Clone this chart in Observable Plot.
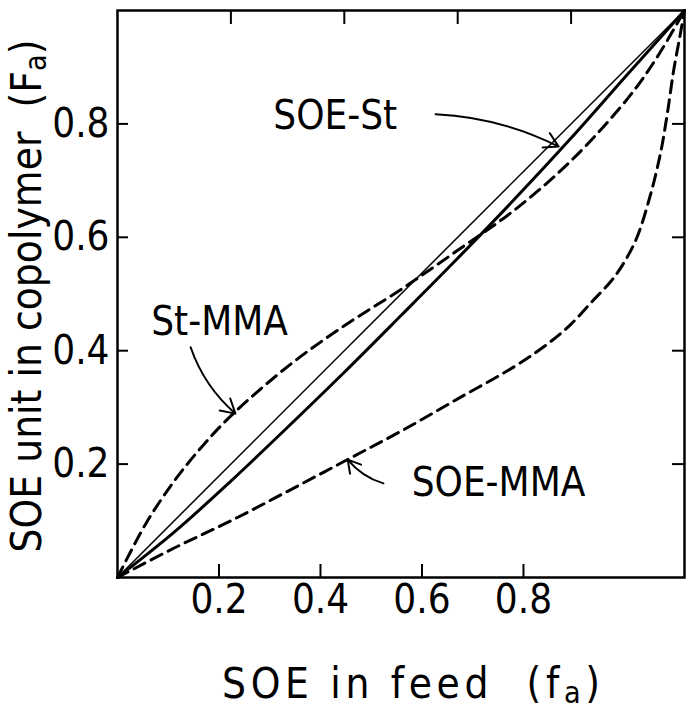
<!DOCTYPE html>
<html><head><meta charset="utf-8">
<script src="https://cdn.jsdelivr.net/npm/d3@7"></script>
<script src="https://cdn.jsdelivr.net/npm/@observablehq/plot@0.6"></script>
<style>
html,body{margin:0;padding:0;background:#fff;}
svg text{white-space:pre;}
</style>
</head><body><div id="chart"></div>
<script>
const FONT = '"Liberation Sans Narrow", "DejaVu Sans Condensed", "Liberation Sans", sans-serif';

// Thin reference diagonal (F = f)
const diagFeed = [0, 1];
const diagCopolymer = [0, 1];

// SOE-St (thick solid)
const soeStFeed = [0, 0.1, 0.2, 0.3, 0.4, 0.5, 0.6, 0.7, 0.8, 0.9, 1];
const soeStCopolymer = [0, 0.08, 0.17, 0.265, 0.362, 0.462, 0.563, 0.667, 0.775, 0.888, 1];

// St-MMA (dashed)
const stMmaFeed = [0, 0.05, 0.1, 0.15, 0.2, 0.3, 0.4, 0.5, 0.6, 0.7, 0.8, 0.9, 0.95, 1];
const stMmaCopolymer = [0, 0.095, 0.17, 0.232, 0.285, 0.372, 0.444, 0.508, 0.577, 0.648, 0.735, 0.845, 0.915, 1];

// SOE-MMA (dashed)
const soeMmaFeed = [0, 0.1, 0.2, 0.3, 0.4, 0.5, 0.6, 0.7, 0.76, 0.8, 0.84, 0.87, 0.89, 0.915, 0.94, 0.958, 0.97, 0.981, 0.992, 1];
const soeMmaCopolymer = [0, 0.052, 0.1, 0.152, 0.205, 0.258, 0.315, 0.372, 0.413, 0.447, 0.49, 0.522, 0.55, 0.597, 0.675, 0.75, 0.82, 0.895, 0.955, 1];

// Axis ticks
const tickValues = [0.2, 0.4, 0.6, 0.8];
const tickLabels = ["0.2", "0.4", "0.6", "0.8"];
// In the printed figure the labelled bottom axis is drawn ~10% compressed relative to the frame
const bottomAxisCompression = 0.895;

// Titles (text, subscript, closing)
const xTitle = ["SOE in feed  (f", "a", ")"];
const yTitle = ["SOE unit in copolymer  (F", "a", ")"];

// Annotations
const labelText = ["SOE-St", "St-MMA", "SOE-MMA"];
const labelFeed = [0.384, 0.180, 0.672];
const labelCopolymer = [0.813, 0.451, 0.166];
const arrowFeedFrom = [0.561, 0.129, 0.469];
const arrowCopFrom = [0.817, 0.406, 0.166];
const arrowFeedTo = [0.778, 0.208, 0.406];
const arrowCopTo = [0.760, 0.289, 0.208];
const arrowBend = [12, -15, 17];

const toRows = (xs, ys) => xs.map((x, i) => ({x, y: ys[i]}));
const labels = labelText.map((t, i) => ({t, x: labelFeed[i], y: labelCopolymer[i]}));
const arrows = labelText.map((t, i) => ({x1: arrowFeedFrom[i], y1: arrowCopFrom[i], x2: arrowFeedTo[i], y2: arrowCopTo[i], bend: arrowBend[i]}));

const dash = "12,7";
const plot = Plot.plot({
  width: 686,
  height: 708,
  marginLeft: 117,
  marginRight: 2,
  marginTop: 10,
  marginBottom: 131,
  style: {fontFamily: FONT, background: "#fff", color: "#000"},
  x: {domain: [0, 1]},
  y: {domain: [0, 1]},
  marks: [
    Plot.frame({stroke: "#000", strokeWidth: 2.5}),
    Plot.axisY({anchor: "left", ticks: tickValues, tickFormat: (d, i) => tickLabels[i], tickSize: -11, tickPadding: 19, fontSize: 40, strokeWidth: 2, label: null}),
    Plot.axisY({anchor: "right", ticks: tickValues, tickFormat: () => "", tickSize: -13, strokeWidth: 2, label: null}),
    Plot.axisX({anchor: "top", ticks: tickValues, tickFormat: () => "", tickSize: -13, strokeWidth: 2, label: null}),
    Plot.axisX({anchor: "bottom", ticks: tickValues.map(v => v * bottomAxisCompression), tickFormat: (d, i) => tickLabels[i], tickSize: -13, tickPadding: 20, fontSize: 40, strokeWidth: 2, label: null}),
    Plot.line(toRows(diagFeed, diagCopolymer), {x: "x", y: "y", stroke: "#000", strokeWidth: 1.5}),
    Plot.line(toRows(soeStFeed, soeStCopolymer), {x: "x", y: "y", stroke: "#000", strokeWidth: 3, curve: "catmull-rom"}),
    Plot.line(toRows(stMmaFeed, stMmaCopolymer), {x: "x", y: "y", stroke: "#000", strokeWidth: 3, strokeDasharray: dash, curve: "catmull-rom"}),
    Plot.line(toRows(soeMmaFeed, soeMmaCopolymer), {x: "x", y: "y", stroke: "#000", strokeWidth: 3, strokeDasharray: dash, curve: "catmull-rom"}),
    ...arrows.map(a => Plot.arrow([a], {x1: "x1", y1: "y1", x2: "x2", y2: "y2", bend: a.bend, stroke: "#000", strokeWidth: 2, headLength: 12})),
    Plot.text(labels, {x: "x", y: "y", text: "t", fontSize: 40, fill: "#000", style: "letter-spacing:1.5px"}),
    Plot.text([xTitle.join("")], {frameAnchor: "bottom", textAnchor: "middle", lineAnchor: "middle", dy: 107, dx: 10, fontSize: 42, fill: "#000"}),
    Plot.text([yTitle.join("")], {frameAnchor: "left", textAnchor: "middle", lineAnchor: "middle", dx: -90, dy: 2, rotate: -90, fontSize: 42, fill: "#000"})
  ]
});
document.getElementById("chart").appendChild(plot);

// Render the subscripted "a" of the axis titles as real subscript text, spread to the printed width
function subscript(parts, length) {
  const full = parts.join("");
  plot.querySelectorAll("text").forEach(el => {
    if (el.textContent !== full) return;
    el.textContent = "";
    const ns = "http://www.w3.org/2000/svg";
    el.appendChild(document.createTextNode(parts[0]));
    const sub = document.createElementNS(ns, "tspan");
    sub.setAttribute("dy", "5");
    sub.setAttribute("font-size", "0.72em");
    sub.textContent = parts[1];
    el.appendChild(sub);
    const tail = document.createElementNS(ns, "tspan");
    tail.setAttribute("dy", "-5");
    tail.textContent = parts[2];
    el.appendChild(tail);
    el.setAttribute("textLength", length);
    el.setAttribute("lengthAdjust", "spacing");
  });
}
subscript(xTitle, 378);
subscript(yTitle, 513);
</script>
</body></html>
